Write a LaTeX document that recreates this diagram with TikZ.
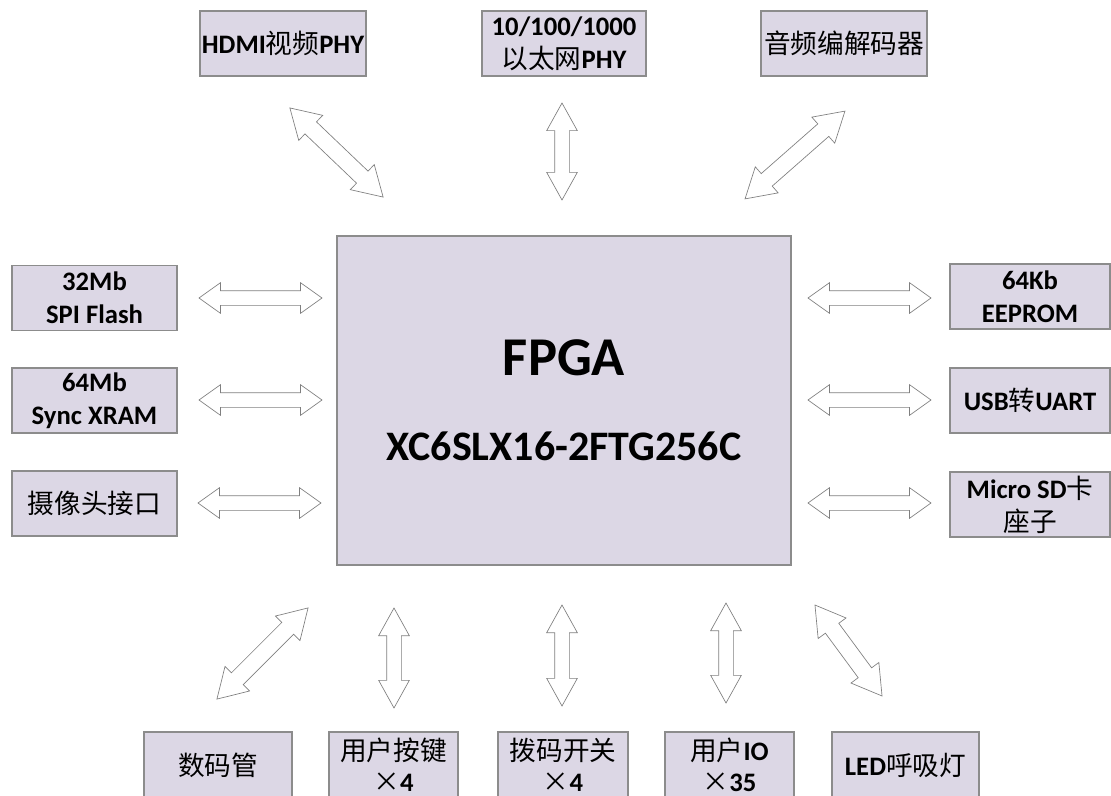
\documentclass[tikz,border=0pt]{standalone}
\usepackage{fontspec}
\setmainfont{Carlito}
\newfontfamily\cjk{Noto Sans CJK SC}
\usetikzlibrary{shapes.arrows}
\definecolor{boxfill}{HTML}{DCD7E5}
\definecolor{boxline}{HTML}{8C8C8C}
\definecolor{arrline}{HTML}{7F7F7F}
\newcommand{\zh}[1]{{\cjk\mdseries #1}}
\tikzset{
  blk/.style={draw=boxline, fill=boxfill, line width=0.8pt, align=center, inner sep=0pt,
    font=\fontsize{20}{24.75}\selectfont\bfseries},
  lowblk/.style={blk, minimum height=49.5pt, font=\fontsize{20}{23.5}\selectfont\bfseries},
  dbl/.style={double arrow, draw=arrline, fill=white, line width=0.5pt, inner sep=0pt, minimum width=0pt},
  harr/.style={dbl, inner ysep=5.25pt, double arrow head extend=6pt, double arrow tip angle=71, minimum height=#1},
  varr/.style={dbl, inner ysep=5.25pt, double arrow head extend=6pt, double arrow tip angle=58, minimum height=#1, rotate=90},
  darr/.style={dbl, inner ysep=6pt, double arrow head extend=6.75pt, double arrow tip angle=62, minimum height=#1},
}
\begin{document}
\begin{tikzpicture}[x=0.75pt, y=-0.75pt]
        \useasboundingbox (0,0) rectangle (1111,796);
        \clip (0,0) rectangle (1111,796);

        %fpga
        \node[blk, minimum width=340.5pt, minimum height=246.75pt, font=\fontsize{31.5}{38}\selectfont\bfseries] (fpga) at (564,400.5)
            {{\fontsize{41}{41}\selectfont FPGA}\\[25.75pt]XC6SLX16-2FTG256C};

        %blocchi sopra
        \node[blk, minimum width=124.5pt, minimum height=48.75pt] (hdmi) at (283,43.5) {HDMI\zh{视频}PHY};
        \node[blk, minimum width=123pt, minimum height=48.75pt] (eth) at (564,43.5) {10/100/1000\\\zh{以太网}PHY};
        \node[blk, minimum width=124.5pt, minimum height=48.75pt] (audio) at (844,43.5) {\zh{音频编解码器}};

        %blocchi a sinistra
        \node[blk, minimum width=123.75pt, minimum height=48.75pt] (spi) at (94.5,298) {32Mb\\SPI Flash};
        \node[blk, minimum width=123.75pt, minimum height=48.75pt] (xram) at (94.5,400.5) {64Mb\\Sync XRAM};
        \node[blk, minimum width=123.75pt, minimum height=48.75pt] (cam) at (94.5,503.5) {\zh{摄像头接口}};

        %blocchi a destra
        \node[blk, minimum width=120pt, minimum height=48.75pt] (eeprom) at (1030,296.5) {64Kb\\EEPROM};
        \node[blk, minimum width=120pt, minimum height=48.75pt] (uart) at (1030,400.5) {USB\zh{转}UART};
        \node[blk, minimum width=120pt, minimum height=48.75pt] (sd) at (1030,504.5) {Micro SD\zh{卡}\\\zh{座子}};

        %blocchi sotto
        \node[lowblk, minimum width=111pt] (seg) at (218,765) {\zh{数码管}};
        \node[lowblk, minimum width=96.75pt] (key) at (393.5,765) {\zh{用户按键}\\\zh{×}4};
        \node[lowblk, minimum width=97.5pt] (sw) at (563,765) {\zh{拨码开关}\\\zh{×}4};
        \node[lowblk, minimum width=96.75pt] (io) at (729.5,765) {\zh{用户}IO\\\zh{×}35};
        \node[lowblk, minimum width=110.25pt] (led) at (905.5,765) {LED\zh{呼吸灯}};

        %frecce
        \node[darr=96.75pt, rotate=-43.7] (a-hdmi) at (336.5,152.5) {};
        \node[varr=72.75pt] (a-eth) at (562,151.5) {};
        \node[darr=99.75pt, rotate=41.3] (a-audio) at (795,155) {};
        \node[harr=92.25pt] (a-spi) at (260.5,298) {};
        \node[harr=92.25pt] (a-xram) at (260.5,400) {};
        \node[harr=92.25pt] (a-cam) at (259.5,503) {};
        \node[harr=92.25pt] (a-eeprom) at (869.5,298) {};
        \node[harr=92.25pt] (a-uart) at (869.5,400) {};
        \node[harr=92.25pt] (a-sd) at (869.5,503) {};
        \node[darr=96.75pt, rotate=45] (a-seg) at (262.5,653.5) {};
        \node[varr=75pt] (a-key) at (394,658) {};
        \node[varr=75.75pt] (a-sw) at (562,655.5) {};
        \node[varr=75pt] (a-io) at (726,653) {};
        \node[darr=84.75pt, rotate=-53.6] (a-led) at (848.5,650.5) {};
\end{tikzpicture}
\end{document}
